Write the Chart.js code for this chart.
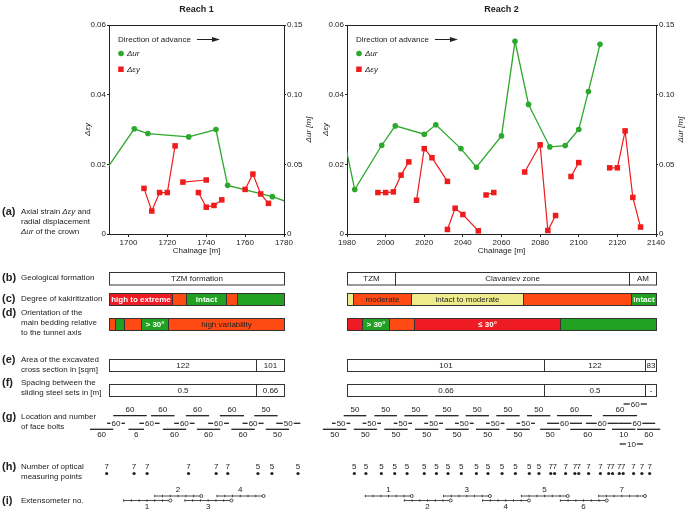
<!DOCTYPE html>
<html>
<head>
<meta charset="utf-8">
<script src="https://cdn.jsdelivr.net/npm/chart.js@4.4.1/dist/chart.umd.min.js"></script>
<style>
body{margin:0;background:#fff;width:685px;height:515px;position:relative;overflow:hidden;font-family:'Liberation Sans',Arial,sans-serif;color:#222}
canvas{position:absolute;top:0}
#c1{left:0}
#c2{left:312px}
.lab{position:absolute;left:2px;font-size:8px;line-height:10px;white-space:nowrap}
.lab b{position:absolute;left:0;top:-1px;font-size:11px;line-height:11px}
.lab div{position:absolute;left:19px;top:0}
</style>
</head>
<body>
<canvas id="c1" width="320" height="515"></canvas>
<canvas id="c2" width="373" height="515"></canvas>

<div class="lab" style="top:207px"><b>(a)</b><div>Axial strain <i>Δεy</i> and<br>radial displacement<br><i>Δur</i> of the crown</div></div>
<div class="lab" style="top:273px"><b>(b)</b><div>Geological formation</div></div>
<div class="lab" style="top:294px"><b>(c)</b><div>Degree of kakiritization</div></div>
<div class="lab" style="top:308px"><b>(d)</b><div>Orientation of the<br>main bedding relative<br>to the tunnel axis</div></div>
<div class="lab" style="top:355px"><b>(e)</b><div>Area of the excavated<br>cross section in [sqm]</div></div>
<div class="lab" style="top:378px"><b>(f)</b><div>Spacing between the<br>sliding steel sets in [m]</div></div>
<div class="lab" style="top:412px"><b>(g)</b><div>Location and number<br>of face bolts</div></div>
<div class="lab" style="top:462px"><b>(h)</b><div>Number of optical<br>measuring points</div></div>
<div class="lab" style="top:496px"><b>(i)</b><div>Extensometer no.</div></div>

<script>
// ---- Reach 1 data ----
const r1Ticks = [1700, 1720, 1740, 1760, 1780];
const r1UrX = [1686, 1703, 1710, 1731, 1745, 1751, 1774, 1786];
const r1UrY = [0.041, 0.0755, 0.0721, 0.0697, 0.075, 0.0349, 0.0268, 0.021];
const r1EyX = [[1708, 1712, 1716, 1720, 1724], [1728, 1740], [1736, 1740, 1744, 1748], [1760, 1764, 1768, 1772]];
const r1EyY = [[0.0131, 0.0066, 0.0119, 0.0119, 0.0253], [0.0149, 0.0155], [0.0119, 0.0077, 0.0082, 0.0098], [0.0128, 0.0172, 0.0115, 0.0088]];
const r1Geo = [[1690, 1780, 'TZM formation']];
const r1Kaki = [[1690, 1722.3, 'HE', 'high to extreme'], [1722.3, 1729.7, 'M', ''], [1729.7, 1750.3, 'I', 'intact'], [1750.3, 1755.8, 'M', ''], [1755.8, 1780, 'I', '']];
const r1Bed = [[1690, 1693.1, 'var', ''], [1693.1, 1697.7, 'gt30', ''], [1697.7, 1706.3, 'var', ''], [1706.3, 1720.6, 'gt30', '> 30°'], [1720.6, 1780, 'var', 'high variability']];
const r1Area = [[1690, 1765.6, '122'], [1765.6, 1780, '101']];
const r1Spacing = [[1690, 1765.6, '0.5'], [1765.6, 1780, '0.66']];
const r1BoltsUpper = [[1692.2, 1709.4, 60], [1711.6, 1723.7, 60], [1729.5, 1741.5, 60], [1747, 1759.4, 60], [1764.7, 1776.7, 50]];
const r1BoltsMid = [[1689, 1698.2, 60], [1705.6, 1716, 60], [1723.5, 1734, 60], [1741, 1751.7, 60], [1758.7, 1769.5, 60], [1776, 1788.4, 50]];
const r1BoltsLower = [[1680.2, 1692.2, 60], [1700, 1708, 6], [1717.7, 1729.7, 60], [1735.2, 1747.2, 60], [1752.9, 1765, 60], [1770.6, 1782.6, 50]];
const r1OptX = [1688.8, 1702.9, 1709.6, 1730.9, 1745.1, 1751.1, 1766.6, 1773.8, 1787.2];
const r1OptN = [7, 7, 7, 7, 7, 7, 5, 5, 5];
const r1ExtStart = [1697.5, 1713.5, 1729, 1745.5];
const r1ExtNo = [1, 2, 3, 4];
const r1ExtLevel = [0, 1, 0, 1];

// ---- Reach 2 data ----
const r2Ticks = [1980, 2000, 2020, 2040, 2060, 2080, 2100, 2120, 2140];
const r2UrX = [1976, 1984, 1998, 2005, 2020, 2026, 2039, 2047, 2060, 2067, 2074, 2085, 2093, 2100, 2105, 2111];
const r2UrY = [0.0845, 0.0319, 0.0637, 0.0776, 0.0716, 0.0784, 0.0613, 0.0479, 0.0704, 0.1383, 0.093, 0.0625, 0.0635, 0.075, 0.1023, 0.1361];
const r2EyX = [[1996, 2000, 2004, 2008, 2012], [2016, 2020, 2024, 2032], [2032, 2036, 2040, 2048], [2052, 2056], [2072, 2080, 2084, 2088], [2096, 2100], [2116, 2120, 2124, 2128, 2132]];
const r2EyY = [[0.0119, 0.0119, 0.0121, 0.0169, 0.0207], [0.0097, 0.0245, 0.0219, 0.0151], [0.0013, 0.0074, 0.0056, 0.0009], [0.0112, 0.0119], [0.0178, 0.0256, 0.001, 0.0053], [0.0165, 0.0205], [0.019, 0.019, 0.0296, 0.0105, 0.002]];
const r2Geo = [[1980, 2005, 'TZM'], [2005, 2125.8, 'Clavaniev zone'], [2125.8, 2140, 'AM']];
const r2Kaki = [[1980, 1982.9, 'IM', ''], [1982.9, 2013, 'M', 'moderate'], [2013, 2071, 'IM', 'intact to moderate'], [2071, 2126.9, 'M', ''], [2126.9, 2140, 'I', 'intact']];
const r2Bed = [[1980, 1987.6, 'le30', ''], [1987.6, 2001.9, 'gt30', '> 30°'], [2001.9, 2014.7, 'var', ''], [2014.7, 2090.5, 'le30', '≤ 30°'], [2090.5, 2140, 'gt30', '']];
const r2Area = [[1980, 2081.8, '101'], [2081.8, 2134.3, '122'], [2134.3, 2140, '83']];
const r2Spacing = [[1980, 2081.8, '0.66'], [2081.8, 2134.3, '0.5'], [2134.3, 2140, '-']];
const r2BoltsTop = [[2123.2, 2135.3, 60]];
const r2BoltsUpper = [[1978.3, 1990, 50], [1994.2, 2005.9, 50], [2009.7, 2021.8, 50], [2025.7, 2037.8, 50], [2041.4, 2053.5, 50], [2057.3, 2069.4, 50], [2073.2, 2085.3, 50], [2088.7, 2106.9, 60], [2112.5, 2130.2, 60]];
const r2BoltsMid = [[1972.2, 1981.7, 50], [1988.1, 1997.6, 50], [2004.2, 2013.7, 50], [2020, 2029.7, 50], [2035.9, 2045.6, 50], [2052, 2061.5, 50], [2067.7, 2077.3, 50], [2083.6, 2101.7, 60], [2103.7, 2120.6, 60], [2120.6, 2139.6, 60]];
const r2BoltsLower = [[1967.5, 1979.7, 50], [1983.5, 1995.5, 50], [1999.3, 2011.4, 50], [2015.2, 2027.3, 50], [2030.9, 2043, 50], [2046.8, 2058.9, 50], [2062.5, 2074.6, 50], [2080, 2090.4, 50], [2095.6, 2113.7, 60], [2117.2, 2129.3, 10], [2130.2, 2142.2, 60]];
const r2BoltsBottom = [[2121.2, 2133.3, 10]];
const r2OptX = [1983.8, 1989.8, 1997.8, 2004.7, 2011.1, 2020, 2026.3, 2032.3, 2039.2, 2047, 2053, 2060.3, 2067.2, 2074.4, 2079.4,
  2085.5, 2087.5, 2093.2, 2098, 2100, 2105.1, 2111.2, 2115.5, 2117.5, 2121, 2123, 2128.4, 2132.7, 2136.7];
const r2OptN = [5, 5, 5, 5, 5, 5, 5, 5, 5, 5, 5, 5, 5, 5, 5, 7, 7, 7, 7, 7, 7, 7, 7, 7, 7, 7, 7, 7, 7];
const r2ExtStart = [1989.5, 2009.7, 2030, 2050.2, 2070.3, 2090.5, 2110.3];
const r2ExtNo = [1, 2, 3, 4, 5, 6, 7];
const r2ExtLevel = [1, 0, 1, 0, 1, 0, 1];

const extLength = 24;
const extTick = 4;

// ---- styles ----
const GREEN = '#2ca82c';
const RED = '#ee1c1c';
const INK = '#222';
const FONT = "'Liberation Sans', Arial, sans-serif";
const kakiColor = { HE: '#ee1a24', M: '#ff4a14', IM: '#eeeb8c', I: '#22a022' };
const bedColor = { le30: '#ee1a24', gt30: '#22a022', var: '#ff4a14' };
const lightText = { HE: true, I: true, le30: true, gt30: true };

Chart.defaults.font.family = FONT;
Chart.defaults.color = INK;

function segData(xs, ys) {
    const out = [];
    xs.forEach((seg, i) => {
        seg.forEach((x, j) => out.push({ x, y: ys[i][j] }));
        out.push({ x: seg[seg.length - 1], y: null });
    });
    return out;
}

function text(ctx, s, x, y, size, opts = {}) {
    ctx.font = (opts.style || '') + ' ' + size + 'px ' + FONT;
    ctx.fillStyle = opts.color || INK;
    ctx.textAlign = opts.align || 'center';
    ctx.textBaseline = 'middle';
    ctx.fillText(s, x, y);
}

function hline(ctx, x0, x1, y, w) {
    ctx.beginPath();
    ctx.lineWidth = w || 1;
    ctx.strokeStyle = INK;
    ctx.moveTo(x0, y);
    ctx.lineTo(x1, y);
    ctx.stroke();
}

function drawBand(ctx, xs, top, bottom, segs, colors) {
    const h = bottom - top;
    segs.forEach(seg => {
        const x0 = Math.round(xs.getPixelForValue(seg[0])) + 0.5;
        const x1 = Math.round(xs.getPixelForValue(seg[1])) + 0.5;
        const label = colors ? seg[3] : seg[2];
        ctx.fillStyle = colors ? colors[seg[2]] : '#fff';
        ctx.fillRect(x0, top, x1 - x0, h);
        ctx.lineWidth = 1;
        ctx.strokeStyle = '#333';
        ctx.strokeRect(x0, top, x1 - x0, h);
        if (label) {
            const light = colors && lightText[seg[2]];
            text(ctx, label, (x0 + x1) / 2, top + h / 2 + 0.5, 8, { color: light ? '#fff' : INK, style: light ? 'bold' : '' });
        }
    });
}

function drawBolts(ctx, xs, list, y, kind) {
    list.forEach(([a, b, n]) => {
        const x0 = xs.getPixelForValue(a), x1 = xs.getPixelForValue(b);
        const cx = (x0 + x1) / 2;
        if (kind === 'above') {
            hline(ctx, x0, x1, y, 1.3);
            text(ctx, String(n), cx, y - 5.5, 8);
        } else if (kind === 'below') {
            hline(ctx, x0, x1, y, 1.3);
            text(ctx, String(n), cx, y + 5.5, 8);
        } else {
            ctx.font = '8px ' + FONT;
            const tw = ctx.measureText(String(n)).width;
            hline(ctx, x0, cx - tw / 2 - 1, y, 1.3);
            hline(ctx, cx + tw / 2 + 1, x1, y, 1.3);
            text(ctx, String(n), cx, y + 0.5, 8);
        }
    });
}

function drawOptical(ctx, xs, pos, num) {
    pos.forEach((c, i) => {
        const x = xs.getPixelForValue(c);
        text(ctx, String(num[i]), x, 466.5, 8);
        ctx.beginPath();
        ctx.fillStyle = INK;
        ctx.arc(x, 473.5, 1.6, 0, Math.PI * 2);
        ctx.fill();
    });
}

function drawExtensometers(ctx, xs, starts, nums, levels) {
    starts.forEach((s, i) => {
        const y = levels[i] ? 496 : 500.5;
        const x0 = xs.getPixelForValue(s);
        const x1 = xs.getPixelForValue(s + extLength);
        ctx.lineWidth = 0.8;
        ctx.strokeStyle = INK;
        ctx.beginPath();
        ctx.moveTo(x0, y);
        ctx.lineTo(x1 - 1.5, y);
        for (let c = s; c < s + extLength - 0.01; c += extTick) {
            const tx = xs.getPixelForValue(c);
            ctx.moveTo(tx, y - 1.2);
            ctx.lineTo(tx, y + 1.2);
        }
        ctx.stroke();
        ctx.beginPath();
        ctx.arc(x1, y, 1.5, 0, Math.PI * 2);
        ctx.stroke();
        const ly = levels[i] ? y - 6 : y + 6.5;
        text(ctx, String(nums[i]), (x0 + x1) / 2, ly, 8);
    });
}

function makeExtras(r) {
    return {
        id: 'extras',
        afterDraw(chart) {
            const ctx = chart.ctx;
            const ca = chart.chartArea;
            const xs = chart.scales.x;
            ctx.save();

            // frame top
            hline(ctx, ca.left, ca.right, Math.round(ca.top) + 0.5, 1);

            // title
            text(ctx, r.title, (ca.left + ca.right) / 2, 10, 9, { style: 'bold' });

            // right axis title
            ctx.save();
            ctx.translate(ca.right + 25, (ca.top + ca.bottom) / 2);
            ctx.rotate(-Math.PI / 2);
            text(ctx, 'Δur [m]', 0, 0, 8, { style: 'italic' });
            ctx.restore();

            // legend
            const lx = ca.left + 10;
            text(ctx, 'Direction of advance', lx - 1, 39.5, 8, { align: 'left' });
            ctx.font = '8px ' + FONT;
            const ax = lx - 1 + ctx.measureText('Direction of advance').width + 6;
            hline(ctx, ax, ax + 17, 39.5, 1);
            ctx.beginPath();
            ctx.fillStyle = INK;
            ctx.moveTo(ax + 23, 39.5);
            ctx.lineTo(ax + 15, 37);
            ctx.lineTo(ax + 15, 42);
            ctx.closePath();
            ctx.fill();
            ctx.beginPath();
            ctx.fillStyle = GREEN;
            ctx.arc(lx + 2, 53.5, 2.8, 0, Math.PI * 2);
            ctx.fill();
            text(ctx, 'Δur', lx + 8, 54, 8, { align: 'left', style: 'italic' });
            ctx.fillStyle = RED;
            ctx.fillRect(lx - 0.8, 66.5, 5.5, 5.5);
            text(ctx, 'Δεy', lx + 8, 70, 8, { align: 'left', style: 'italic' });

            // bands
            drawBand(ctx, xs, 272.5, 285, r.geo);
            drawBand(ctx, xs, 293.5, 305.5, r.kaki, kakiColor);
            drawBand(ctx, xs, 318.5, 330.5, r.bed, bedColor);
            drawBand(ctx, xs, 359.5, 371.5, r.area);
            drawBand(ctx, xs, 384.5, 396.5, r.spacing);

            // face bolts
            if (r.boltsTop) drawBolts(ctx, xs, r.boltsTop, 404, 'mid');
            drawBolts(ctx, xs, r.boltsUpper, 415.7, 'above');
            drawBolts(ctx, xs, r.boltsMid, 423.3, 'mid');
            drawBolts(ctx, xs, r.boltsLower, 429.3, 'below');
            if (r.boltsBottom) drawBolts(ctx, xs, r.boltsBottom, 444, 'mid');

            drawOptical(ctx, xs, r.optX, r.optN);
            drawExtensometers(ctx, xs, r.extStart, r.extNo, r.extLevel);

            ctx.restore();
        }
    };
}

function makeChart(id, r) {
    return new Chart(document.getElementById(id), {
        type: 'line',
        data: {
            datasets: [{
                label: 'Δεy',
                data: segData(r.eyX, r.eyY),
                yAxisID: 'y',
                borderColor: RED,
                backgroundColor: RED,
                borderWidth: 1.2,
                pointStyle: 'rect',
                pointRadius: 3.9,
                pointBorderWidth: 0,
                spanGaps: false,
                clip: { left: 0, right: 0, top: 6, bottom: 6 }
            }, {
                label: 'Δur',
                data: r.urX.map((x, i) => ({ x, y: r.urY[i] })),
                yAxisID: 'y1',
                borderColor: GREEN,
                backgroundColor: GREEN,
                borderWidth: 1.3,
                pointStyle: 'circle',
                pointRadius: 2.8,
                pointBorderWidth: 0,
                clip: { left: 0, right: 0, top: 6, bottom: 6 }
            }]
        },
        options: {
            responsive: false,
            animation: false,
            devicePixelRatio: 1,
            layout: { padding: { left: r.padLeft, right: 0, top: 25, bottom: 257 } },
            plugins: { legend: { display: false }, tooltip: { enabled: false } },
            scales: {
                x: {
                    type: 'linear',
                    min: r.xMin,
                    max: r.xMax,
                    afterBuildTicks: s => { s.ticks = r.ticks.map(v => ({ value: v })); },
                    afterFit: s => { s.height = 24; },
                    grid: { drawOnChartArea: false, tickLength: 3, color: INK },
                    border: { color: INK },
                    ticks: { padding: 1, font: { size: 8 }, maxRotation: 0, callback: v => String(v) },
                    title: { display: true, text: 'Chainage [m]', font: { size: 8 }, padding: { top: 0, bottom: 2 } }
                },
                y: {
                    position: 'left',
                    min: 0,
                    max: 0.06,
                    afterBuildTicks: s => { s.ticks = [0, 0.02, 0.04, 0.06].map(v => ({ value: v })); },
                    afterFit: s => { s.width = 26; },
                    grid: { drawOnChartArea: false, tickLength: 2, color: INK },
                    border: { color: INK },
                    ticks: { padding: 1, font: { size: 8 }, callback: v => v === 0 ? '0' : v.toFixed(2) },
                    title: { display: true, text: 'Δεy', font: { size: 8, style: 'italic' }, padding: { top: 0, bottom: 0 } }
                },
                y1: {
                    position: 'right',
                    min: 0,
                    max: 0.15,
                    afterBuildTicks: s => { s.ticks = [0, 0.05, 0.1, 0.15].map(v => ({ value: v })); },
                    afterFit: s => { s.width = r.rightWidth; },
                    grid: { drawOnChartArea: false, tickLength: 2, color: INK },
                    border: { color: INK },
                    ticks: { padding: 1, font: { size: 8 }, callback: v => v === 0 ? '0' : v.toFixed(2) }
                }
            }
        },
        plugins: [makeExtras(r)]
    });
}

makeChart('c1', {
    title: 'Reach 1', xMin: 1690, xMax: 1780, ticks: r1Ticks, padLeft: 83, rightWidth: 36,
    urX: r1UrX, urY: r1UrY, eyX: r1EyX, eyY: r1EyY,
    geo: r1Geo, kaki: r1Kaki, bed: r1Bed, area: r1Area, spacing: r1Spacing,
    boltsUpper: r1BoltsUpper, boltsMid: r1BoltsMid, boltsLower: r1BoltsLower,
    optX: r1OptX, optN: r1OptN, extStart: r1ExtStart, extNo: r1ExtNo, extLevel: r1ExtLevel
});

makeChart('c2', {
    title: 'Reach 2', xMin: 1980, xMax: 2140, ticks: r2Ticks, padLeft: 9, rightWidth: 29,
    urX: r2UrX, urY: r2UrY, eyX: r2EyX, eyY: r2EyY,
    geo: r2Geo, kaki: r2Kaki, bed: r2Bed, area: r2Area, spacing: r2Spacing,
    boltsTop: r2BoltsTop, boltsUpper: r2BoltsUpper, boltsMid: r2BoltsMid, boltsLower: r2BoltsLower, boltsBottom: r2BoltsBottom,
    optX: r2OptX, optN: r2OptN, extStart: r2ExtStart, extNo: r2ExtNo, extLevel: r2ExtLevel
});
</script>
</body>
</html>
